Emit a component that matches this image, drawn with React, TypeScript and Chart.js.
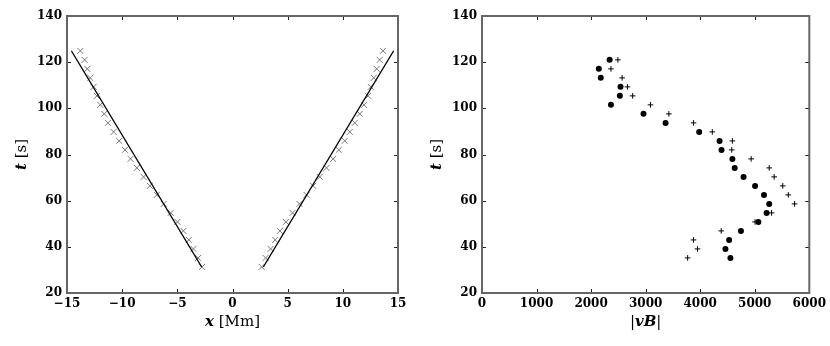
import React, { useEffect, useRef } from "react";
import { Chart, registerables } from "chart.js";

Chart.register(...registerables);

// ---- Left panel data: x [Mm] vs t [s]
const tLeft = [31.3, 35.2, 39.1, 43.0, 46.9, 50.8, 54.7, 58.6, 62.5, 66.4, 70.3, 74.2, 78.1, 82.0, 85.9, 89.8, 93.7, 97.6, 101.5, 105.4, 109.3, 113.2, 117.1, 121.0, 124.9];
const xLeftBranch = [-2.76, -3.12, -3.54, -3.96, -4.45, -4.99, -5.6, -6.23, -6.86, -7.49, -8.06, -8.67, -9.24, -9.75, -10.27, -10.78, -11.29, -11.62, -11.98, -12.29, -12.59, -12.89, -13.16, -13.4, -13.79];
const xRightBranch = [2.64, 3.0, 3.45, 3.87, 4.3, 4.84, 5.44, 6.07, 6.71, 7.31, 7.91, 8.52, 9.12, 9.63, 10.17, 10.63, 11.08, 11.53, 11.92, 12.29, 12.53, 12.8, 13.07, 13.34, 13.64];
const fitLeftX = [-2.8, -14.6];
const fitRightX = [2.8, 14.6];
const fitT = [31.3, 124.9];

// ---- Right panel data: |vB| vs t [s]
const tRight = [35.2, 39.1, 43.0, 46.9, 50.8, 54.7, 58.6, 62.5, 66.4, 70.3, 74.2, 78.1, 82.0, 85.9, 89.8, 93.7, 97.6, 101.5, 105.4, 109.3, 113.2, 117.1, 121.0];
const vbDots = [4554, 4463, 4530, 4747, 5066, 5217, 5265, 5169, 5006, 4795, 4632, 4590, 4391, 4355, 3981, 3365, 2961, 2364, 2527, 2539, 2177, 2141, 2340];
const vbPlus = [3770, 3951, 3878, 4385, 5006, 5308, 5730, 5615, 5513, 5356, 5265, 4934, 4578, 4590, 4222, 3878, 3426, 3088, 2762, 2666, 2569, 2364, 2491];

const yTickVals = [20, 40, 60, 80, 100, 120, 140];

// axis title pieces: [text, isMathVariable]
const leftXTitle: [string, boolean][] = [["x", true], [" [Mm]", false]];
const rightXTitle: [string, boolean][] = [["|", false], ["vB", true], ["|", false]];
const yTitle: [string, boolean][] = [["t", true], [" [s]", false]];

const pts = (xs: number[], ys: number[]) => xs.map((x, i) => ({ x, y: ys[i] }));

const tickFont = { family: "'DejaVu Serif', serif", size: 12, weight: "bold" as const };
const MATH_FONT = "italic bold 15px 'DejaVu Serif', serif";
const TEXT_FONT = "15px 'DejaVu Serif', serif";

function drawPieces(ctx: CanvasRenderingContext2D, pieces: [string, boolean][], cx: number, cy: number) {
  let total = 0;
  const widths = pieces.map(([t, m]) => {
    ctx.font = m ? MATH_FONT : TEXT_FONT;
    const w = ctx.measureText(t).width;
    total += w;
    return w;
  });
  let x = cx - total / 2;
  ctx.textBaseline = "middle";
  ctx.textAlign = "left";
  pieces.forEach(([t, m], i) => {
    ctx.font = m ? MATH_FONT : TEXT_FONT;
    ctx.fillText(t, x, cy);
    x += widths[i];
  });
}

const framePlugin = {
  id: "frame",
  afterDraw(chart: any, _args: any, opts: any) {
    const { ctx, chartArea: a, scales } = chart;
    ctx.save();
    ctx.strokeStyle = "#222";
    ctx.lineWidth = 1;
    const L = 4;
    const xs = scales.x;
    const ys = scales.y;
    xs.ticks.forEach((t: any) => {
      const px = Math.round(xs.getPixelForValue(t.value)) + 0.5;
      if (px <= a.left + 1 || px >= a.right - 1) return;
      ctx.beginPath();
      ctx.moveTo(px, a.bottom);
      ctx.lineTo(px, a.bottom - L);
      ctx.moveTo(px, a.top);
      ctx.lineTo(px, a.top + L);
      ctx.stroke();
    });
    ys.ticks.forEach((t: any) => {
      const py = Math.round(ys.getPixelForValue(t.value)) + 0.5;
      if (py <= a.top + 1 || py >= a.bottom - 1) return;
      ctx.beginPath();
      ctx.moveTo(a.left, py);
      ctx.lineTo(a.left + L, py);
      ctx.moveTo(a.right, py);
      ctx.lineTo(a.right - L, py);
      ctx.stroke();
    });
    ctx.strokeStyle = "#666";
    ctx.lineWidth = 2;
    ctx.strokeRect(a.left, a.top, a.right - a.left, a.bottom - a.top);

    // axis titles
    ctx.fillStyle = "#000";
    drawPieces(ctx, opts.xTitle, (a.left + a.right) / 2, a.bottom + 29);
    ctx.save();
    ctx.translate(22, (a.top + a.bottom) / 2);
    ctx.rotate(-Math.PI / 2);
    drawPieces(ctx, yTitle, 0, 0);
    ctx.restore();
    ctx.restore();
  },
};

function makeOptions(xMin: number, xMax: number, xStep: number, xTitle: [string, boolean][]) {
  return {
    responsive: true,
    maintainAspectRatio: false,
    animation: false as const,
    layout: { padding: { top: 16, right: 17, left: 0, bottom: 0 } },
    plugins: { legend: { display: false }, tooltip: { enabled: false }, frame: { xTitle } },
    scales: {
      x: {
        type: "linear" as const,
        min: xMin,
        max: xMax,
        afterFit: (s: any) => { s.height = 53; },
        grid: { display: false, drawTicks: false },
        border: { display: false },
        ticks: {
          stepSize: xStep,
          padding: 4,
          color: "#000",
          font: tickFont,
          maxRotation: 0,
          callback: (v: any) => (Number(v) < 0 ? "\u2212" + Math.abs(Number(v)) : String(v)),
        },
      },
      y: {
        type: "linear" as const,
        min: 20,
        max: 140,
        afterFit: (s: any) => { s.width = 67; },
        afterBuildTicks: (s: any) => { s.ticks = yTickVals.map((v) => ({ value: v })); },
        grid: { display: false, drawTicks: false },
        border: { display: false },
        ticks: { padding: 5, color: "#000", font: tickFont, callback: (v: any) => String(v) },
      },
    },
  };
}

function LeftPanel() {
  const ref = useRef<HTMLCanvasElement>(null);
  useEffect(() => {
    const chart = new Chart(ref.current!, {
      type: "scatter",
      data: {
        datasets: [
          { data: pts(fitLeftX, fitT), showLine: true, borderColor: "#000", borderWidth: 1.2, pointRadius: 0 },
          { data: pts(fitRightX, fitT), showLine: true, borderColor: "#000", borderWidth: 1.2, pointRadius: 0 },
          { data: pts(xLeftBranch, tLeft), pointStyle: "crossRot", pointRadius: 4.2, borderColor: "#777", borderWidth: 1, backgroundColor: "#777" },
          { data: pts(xRightBranch, tLeft), pointStyle: "crossRot", pointRadius: 4.2, borderColor: "#777", borderWidth: 1, backgroundColor: "#777" },
        ],
      },
      options: makeOptions(-15, 15, 5, leftXTitle) as any,
      plugins: [framePlugin],
    });
    return () => chart.destroy();
  }, []);
  return (
    <div style={{ position: "absolute", left: 0, top: 0, width: 415, height: 346 }}>
      <canvas ref={ref} />
    </div>
  );
}

function RightPanel() {
  const ref = useRef<HTMLCanvasElement>(null);
  useEffect(() => {
    const chart = new Chart(ref.current!, {
      type: "scatter",
      data: {
        datasets: [
          { data: pts(vbDots, tRight), pointStyle: "circle", pointRadius: 3, borderWidth: 0, backgroundColor: "#000", borderColor: "#000" },
          { data: pts(vbPlus, tRight), pointStyle: "cross", pointRadius: 2.8, borderWidth: 1, borderColor: "#000" },
        ],
      },
      options: makeOptions(0, 6000, 1000, rightXTitle) as any,
      plugins: [framePlugin],
    });
    return () => chart.destroy();
  }, []);
  return (
    <div style={{ position: "absolute", left: 415, top: 0, width: 415, height: 346 }}>
      <canvas ref={ref} />
    </div>
  );
}

export default function App() {
  return (
    <div style={{ position: "fixed", left: 0, top: 0, width: 830, height: 346, background: "#fff" }}>
      <LeftPanel />
      <RightPanel />
    </div>
  );
}
